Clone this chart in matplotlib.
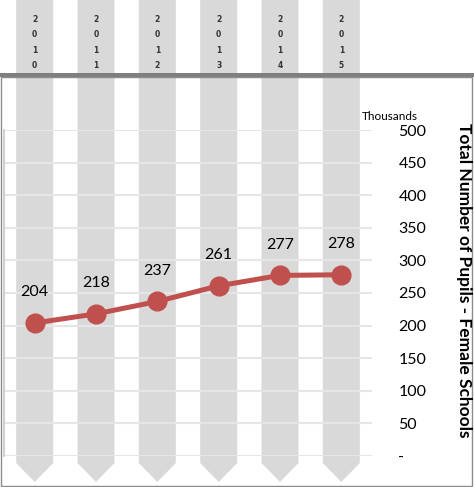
import matplotlib
matplotlib.use("Agg")
import matplotlib.pyplot as plt
from matplotlib.patches import Polygon, Rectangle
import numpy as np

years = ["2010", "2011", "2012", "2013", "2014", "2015"]
pupils = [204, 218, 237, 261, 277, 278]
yticks = [0, 50, 100, 150, 200, 250, 300, 350, 400, 450, 500]
ytick_labels = ["-", "50", "100", "150", "200", "250", "300", "350", "400", "450", "500"]

plt.rcParams['font.family'] = ['Lato', 'DejaVu Sans']

W, H = 474, 487
fig = plt.figure(figsize=(W / 100, H / 100), dpi=100)

# background overlay axes in pixel coords (top-left origin)
bg = fig.add_axes([0, 0, 1, 1], zorder=0)
bg.set_xlim(0, W)
bg.set_ylim(H, 0)
bg.axis("off")

ax = fig.add_axes([4 / W, (H - 456) / H, (372 - 4) / W, (456 - 130) / H], zorder=1)
ax.patch.set_alpha(0)

x = np.arange(len(years))
ax.set_xlim(-0.5, len(years) - 0.5)
ax.set_ylim(0, 500)

# gridlines
ax.set_yticks(yticks)
ax.set_yticklabels(ytick_labels)
ax.yaxis.grid(True, color="#E6E6E6", linewidth=1.5)
ax.set_axisbelow(True)
ax.set_xticks([])
ax.yaxis.tick_right()
ax.tick_params(axis="y", length=0, pad=19, labelsize=11.5, labelcolor="#000000")
for s in ["top", "right", "bottom"]:
    ax.spines[s].set_visible(False)
ax.spines["left"].set_color("#C8C8C8")
ax.spines["left"].set_linewidth(1.2)

ax.plot(x, pupils, color="#C0504D", linewidth=3.6, marker="o", markersize=13.5,
        zorder=3, clip_on=False)
for xi, v in zip(x, pupils):
    ax.annotate(f"{v}", (xi, v), xytext=(0, 22), textcoords="offset points",
                ha="center", va="center", fontsize=11.5, color="#000000")

# gray arrow columns, positioned from category centers
fig.canvas.draw()
col_w = 37
for xi, yr in zip(x, years):
    px = ax.transData.transform((xi, 0))[0]
    poly = Polygon([(px - col_w / 2, 0), (px + col_w / 2, 0),
                    (px + col_w / 2, 463), (px, 482),
                    (px - col_w / 2, 463)], closed=True,
                   facecolor="#D9D9D9", edgecolor="none", zorder=0)
    bg.add_patch(poly)
    bg.text(px, 42.5, "\n".join(yr), ha="center", va="center", fontsize=5.5,
            fontweight="bold", family=["DejaVu Sans"], color="#333333",
            linespacing=1.9, zorder=2)

# horizontal dark band
bg.add_patch(Rectangle((0, 72.5), W, 4.5, facecolor="#7F7F7F", edgecolor="none", zorder=2))
# chart frame
bg.add_patch(Rectangle((0.5, 77), 472, 408.5, facecolor="none", edgecolor="#8C8C8C",
                       linewidth=1.0, zorder=2))

bg.text(362, 117, "Thousands", ha="left", va="center", fontsize=8.5, color="#000000")
bg.text(464, 280, "Total Number of Pupils - Female Schools", rotation=270,
        ha="center", va="center", fontsize=12.5, fontweight="bold", color="#000000")

fig.savefig("out.png", dpi=100)
